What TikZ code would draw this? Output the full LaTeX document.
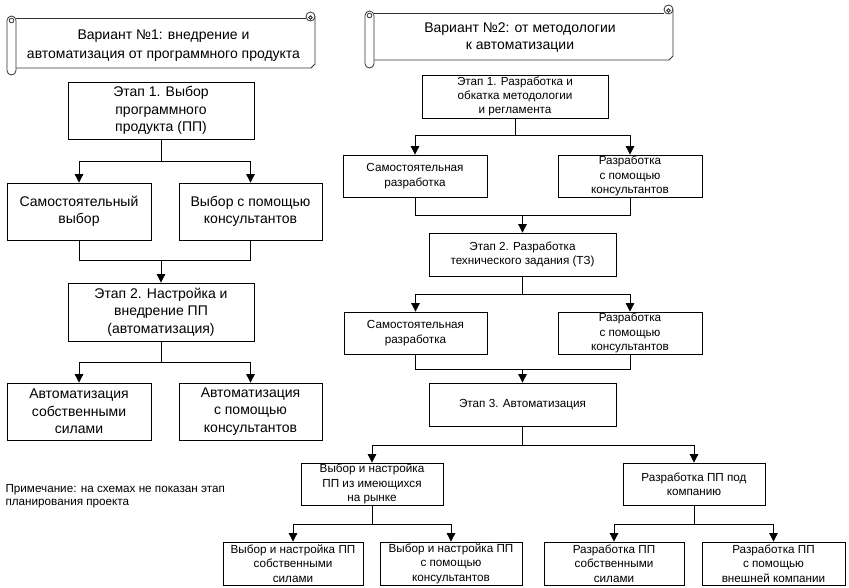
\documentclass[tikz,border=0pt]{standalone}
\usepackage{fontspec}
\setmainfont{Liberation Sans}
\usetikzlibrary{arrows.meta}
\newcommand\myscroll[6]{% L T R B rollbottom curltop
  \draw[scrollline] (#1+9,#2) -- (#3-9,#2);
  \draw[scrollline] (#3,#6+4.5) -- (#3,#4-4) -- (#3-4,#4) -- (#1+9,#4);
  \draw[scrollline] (#3-4.5,#6+4.5) circle (4.5);
  \draw[scrollline] (#3-4.5,#6+5.5) circle (1.8);
  \draw[scrollline, fill=white, rounded corners=4.5pt] (#1,#2-2) rectangle (#1+9,#5);
  \draw[scrollline] (#1+4.5,#2+2.5) circle (2.3);
}
\begin{document}
\begin{tikzpicture}[x=1pt,y=-1pt,
  box/.style={draw=black, line width=0.8pt, fill=white, inner sep=0pt, align=center},
  lt/.style={font=\fontsize{14}{17.5}\selectfont},
  rt/.style={font=\fontsize{11.7}{14.4}\selectfont},
  st/.style={font=\fontsize{14}{19}\selectfont, align=center},
  arr/.style={-{Triangle[width=8.5pt,length=8.5pt]}, line width=0.8pt},
  ln/.style={line width=0.8pt},
  scrollline/.style={draw=black!80, line width=0.8pt}]
\fill[white] (0,0) rectangle (849,587);
\useasboundingbox (0,0) rectangle (849,587);

% scrolls
\myscroll{7}{18}{315}{68}{75}{12}
\node[st] (S1) at (163.5,45.5) {Вариант №1: внедрение и\\автоматизация от программного продукта};
\myscroll{365}{13}{673}{60}{68}{5}
\node[st, font=\fontsize{14}{17}\selectfont] (S2) at (520,37.5) {Вариант №2: от методологии\\к автоматизации};

% left column
\node[box, lt, minimum width=186pt, minimum height=57pt] (L1) at (161,110.5) {Этап 1. Выбор\\программного\\продукта (ПП)};
\node[box, lt, minimum width=144pt, minimum height=57pt] (L2a) at (79,211.5) {Самостоятельный\\выбор};
\node[box, lt, minimum width=143pt, minimum height=57pt] (L2b) at (250.5,211.5) {Выбор с помощью\\консультантов};
\node[box, lt, minimum width=186pt, minimum height=58pt] (L3) at (161,312) {Этап 2. Настройка и\\внедрение ПП\\(автоматизация)};
\node[box, lt, minimum width=144pt, minimum height=57pt] (L4a) at (79,411.5) {Автоматизация\\собственными\\силами};
\node[box, lt, minimum width=143pt, minimum height=57pt] (L4b) at (250.5,411.5) {Автоматизация\\с помощью\\консультантов};

\coordinate (f1) at (161,161);
\draw[ln] (L1.south) -- (f1);
\draw[arr] (f1) -| (L2a.north);
\draw[arr] (f1) -| (L2b.north);
\coordinate (m1) at (161,260);
\draw[ln] (L2a.south) |- (m1);
\draw[ln] (L2b.south) |- (m1);
\draw[arr] (m1) -- (L3.north);
\coordinate (f2) at (161,362);
\draw[ln] (L3.south) -- (f2);
\draw[arr] (f2) -| (L4a.north);
\draw[arr] (f2) -| (L4b.north);

% note
\node[align=left, anchor=west, font=\fontsize{11.7}{13}\selectfont] (note) at (2,496.5) {Примечание: на схемах не показан этап\\планирования проекта};

% right column
\node[box, rt, minimum width=186pt, minimum height=43pt] (R1) at (515,96.5) {Этап 1. Разработка и\\обкатка методологии\\и регламента};
\node[box, rt, minimum width=144pt, minimum height=42pt] (R2a) at (415,176) {Самостоятельная\\разработка};
\node[box, rt, minimum width=144pt, minimum height=42pt] (R2b) at (630,176) {Разработка\\с помощью\\консультантов};
\node[box, rt, minimum width=187pt, minimum height=43pt] (R3) at (522.5,254.5) {Этап 2. Разработка\\технического задания (ТЗ)};
\node[box, rt, minimum width=143pt, minimum height=42pt] (R4a) at (415.5,333) {Самостоятельная\\разработка};
\node[box, rt, minimum width=144pt, minimum height=42pt] (R4b) at (630,333) {Разработка\\с помощью\\консультантов};
\node[box, rt, minimum width=187pt, minimum height=43pt] (R5) at (522.5,404.5) {Этап 3. Автоматизация};
\node[box, rt, minimum width=142pt, minimum height=42pt] (R6a) at (372,484) {Выбор и настройка\\ПП из имеющихся\\на рынке};
\node[box, rt, minimum width=142pt, minimum height=42pt] (R6b) at (694,484) {Разработка ПП под\\компанию};
\node[box, rt, minimum width=140pt, minimum height=43pt] (R7a) at (293,563.5) {Выбор и настройка ПП\\собственными\\силами};
\node[box, rt, minimum width=142pt, minimum height=43pt] (R7b) at (451,563.5) {Выбор и настройка ПП\\с помощью\\консультантов};
\node[box, rt, minimum width=140pt, minimum height=43pt] (R7c) at (614,563.5) {Разработка ПП\\собственными\\силами};
\node[box, rt, minimum width=143pt, minimum height=43pt] (R7d) at (773.5,563.5) {Разработка ПП\\с помощью\\внешней компании};

\coordinate (f3) at (515,135);
\draw[ln] (R1.south) -- (f3);
\draw[arr] (f3) -| (R2a.north);
\draw[arr] (f3) -| (R2b.north);
\coordinate (m2) at (522.5,215);
\draw[ln] (R2a.south) |- (m2);
\draw[ln] (R2b.south) |- (m2);
\draw[arr] (m2) -- (R3.north);
\coordinate (f4) at (522.5,294);
\draw[ln] (R3.south) -- (f4);
\draw[arr] (f4) -| (R4a.north);
\draw[arr] (f4) -| (R4b.north);
\coordinate (m3) at (522.5,369);
\draw[ln] (R4a.south) |- (m3);
\draw[ln] (R4b.south) |- (m3);
\draw[arr] (m3) -- (R5.north);
\coordinate (f5) at (522.5,445);
\draw[ln] (R5.south) -- (f5);
\draw[arr] (f5) -| (R6a.north);
\draw[arr] (f5) -| (R6b.north);
\coordinate (f6) at (372,524);
\draw[ln] (R6a.south) -- (f6);
\draw[arr] (f6) -| (R7a.north);
\draw[arr] (f6) -| (R7b.north);
\coordinate (f7) at (694,524);
\draw[ln] (R6b.south) -- (f7);
\draw[arr] (f7) -| (R7c.north);
\draw[arr] (f7) -| (R7d.north);
\end{tikzpicture}
\end{document}
